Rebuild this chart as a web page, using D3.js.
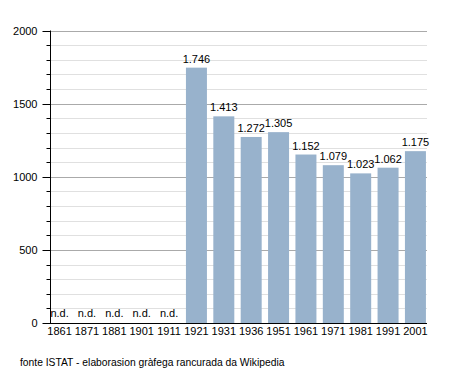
<!DOCTYPE html>
<html>
<head>
<meta charset="utf-8">
<script src="https://cdn.jsdelivr.net/npm/d3@7"></script>
<style>
body { margin: 0; background: #fff; }
text { font-family: "Liberation Sans", Arial, sans-serif; fill: #000; }
</style>
</head>
<body>
<div id="chart"></div>
<script>
var years = ["1861", "1871", "1881", "1901", "1911", "1921", "1931", "1936", "1951", "1961", "1971", "1981", "1991", "2001"];
var population = [null, null, null, null, null, 1746, 1413, 1272, 1305, 1152, 1079, 1023, 1062, 1175];
var yTicks = [0, 500, 1000, 1500, 2000];
var note = "fonte ISTAT - elaborasion gràfega rancurada da Wikipedia";

var svg = d3.select("#chart").append("svg")
    .attr("width", 455)
    .attr("height", 373);

var x = d3.scaleBand()
    .domain(years)
    .range([47.7, 427.3])
    .paddingInner(0.233)
    .paddingOuter(0.05);

var y = d3.scaleLinear()
    .domain([0, 2000])
    .range([323, 30.5]);

var left = 50, right = 427;

// grid lines: light every 100, darker every 500
var grid = svg.append("g");
grid.selectAll("line")
    .data(d3.range(100, 2001, 100))
    .enter().append("line")
    .attr("x1", left)
    .attr("x2", right)
    .attr("y1", function(d) { return Math.round(y(d)) + 0.5; })
    .attr("y2", function(d) { return Math.round(y(d)) + 0.5; })
    .attr("stroke", function(d) { return d % 500 === 0 ? "#aaaaaa" : "#e0e0e0"; })
    .attr("stroke-width", 1);

// bars
svg.append("g").selectAll("rect")
    .data(years.filter(function(d, i) { return population[i] !== null; }))
    .enter().append("rect")
    .attr("x", function(d) { return x(d); })
    .attr("width", x.bandwidth())
    .attr("y", function(d) { return y(population[years.indexOf(d)]); })
    .attr("height", function(d) { return y(0) - y(population[years.indexOf(d)]); })
    .attr("fill", "#98b2cc");

// value labels
svg.append("g").selectAll("text")
    .data(years)
    .enter().append("text")
    .attr("x", function(d) { return x(d) + x.bandwidth() / 2; })
    .attr("y", function(d, i) { return population[i] === null ? 317 : y(population[i]) - 5; })
    .attr("text-anchor", "middle")
    .style("font-size", "11px")
    .text(function(d, i) { return population[i] === null ? "n.d." : d3.format(",")(population[i]).replace(",", "."); });

// y axis with minor ticks
var yAxis = svg.append("g").attr("transform", "translate(" + (left + 0.5) + ",0)");
yAxis.append("line")
    .attr("y1", y(2000)).attr("y2", y(0))
    .attr("stroke", "#000");
yAxis.selectAll(".minor")
    .data(d3.range(100, 2000, 100).filter(function(d) { return d % 500 !== 0; }))
    .enter().append("line")
    .attr("x1", -4).attr("x2", 0)
    .attr("y1", function(d) { return Math.round(y(d)) + 0.5; })
    .attr("y2", function(d) { return Math.round(y(d)) + 0.5; })
    .attr("stroke", "#000");
yAxis.selectAll(".major")
    .data(yTicks)
    .enter().append("line")
    .attr("x1", -8).attr("x2", 0)
    .attr("y1", function(d) { return Math.round(y(d)) + 0.5; })
    .attr("y2", function(d) { return Math.round(y(d)) + 0.5; })
    .attr("stroke", "#000");
yAxis.selectAll("text")
    .data(yTicks)
    .enter().append("text")
    .attr("x", -13)
    .attr("y", function(d) { return y(d) + 4; })
    .attr("text-anchor", "end")
    .style("font-size", "11px")
    .text(function(d) { return d; });

// x axis
svg.append("line")
    .attr("x1", 43).attr("x2", right)
    .attr("y1", Math.round(y(0)) + 0.5).attr("y2", Math.round(y(0)) + 0.5)
    .attr("stroke", "#000");
svg.append("g").selectAll("text")
    .data(years)
    .enter().append("text")
    .attr("x", function(d) { return x(d) + x.bandwidth() / 2; })
    .attr("y", 335)
    .attr("text-anchor", "middle")
    .style("font-size", "11px")
    .text(function(d) { return d; });

svg.append("text")
    .attr("x", 20)
    .attr("y", 366)
    .style("font-size", "10.3px")
    .text(note);
</script>
</body>
</html>
